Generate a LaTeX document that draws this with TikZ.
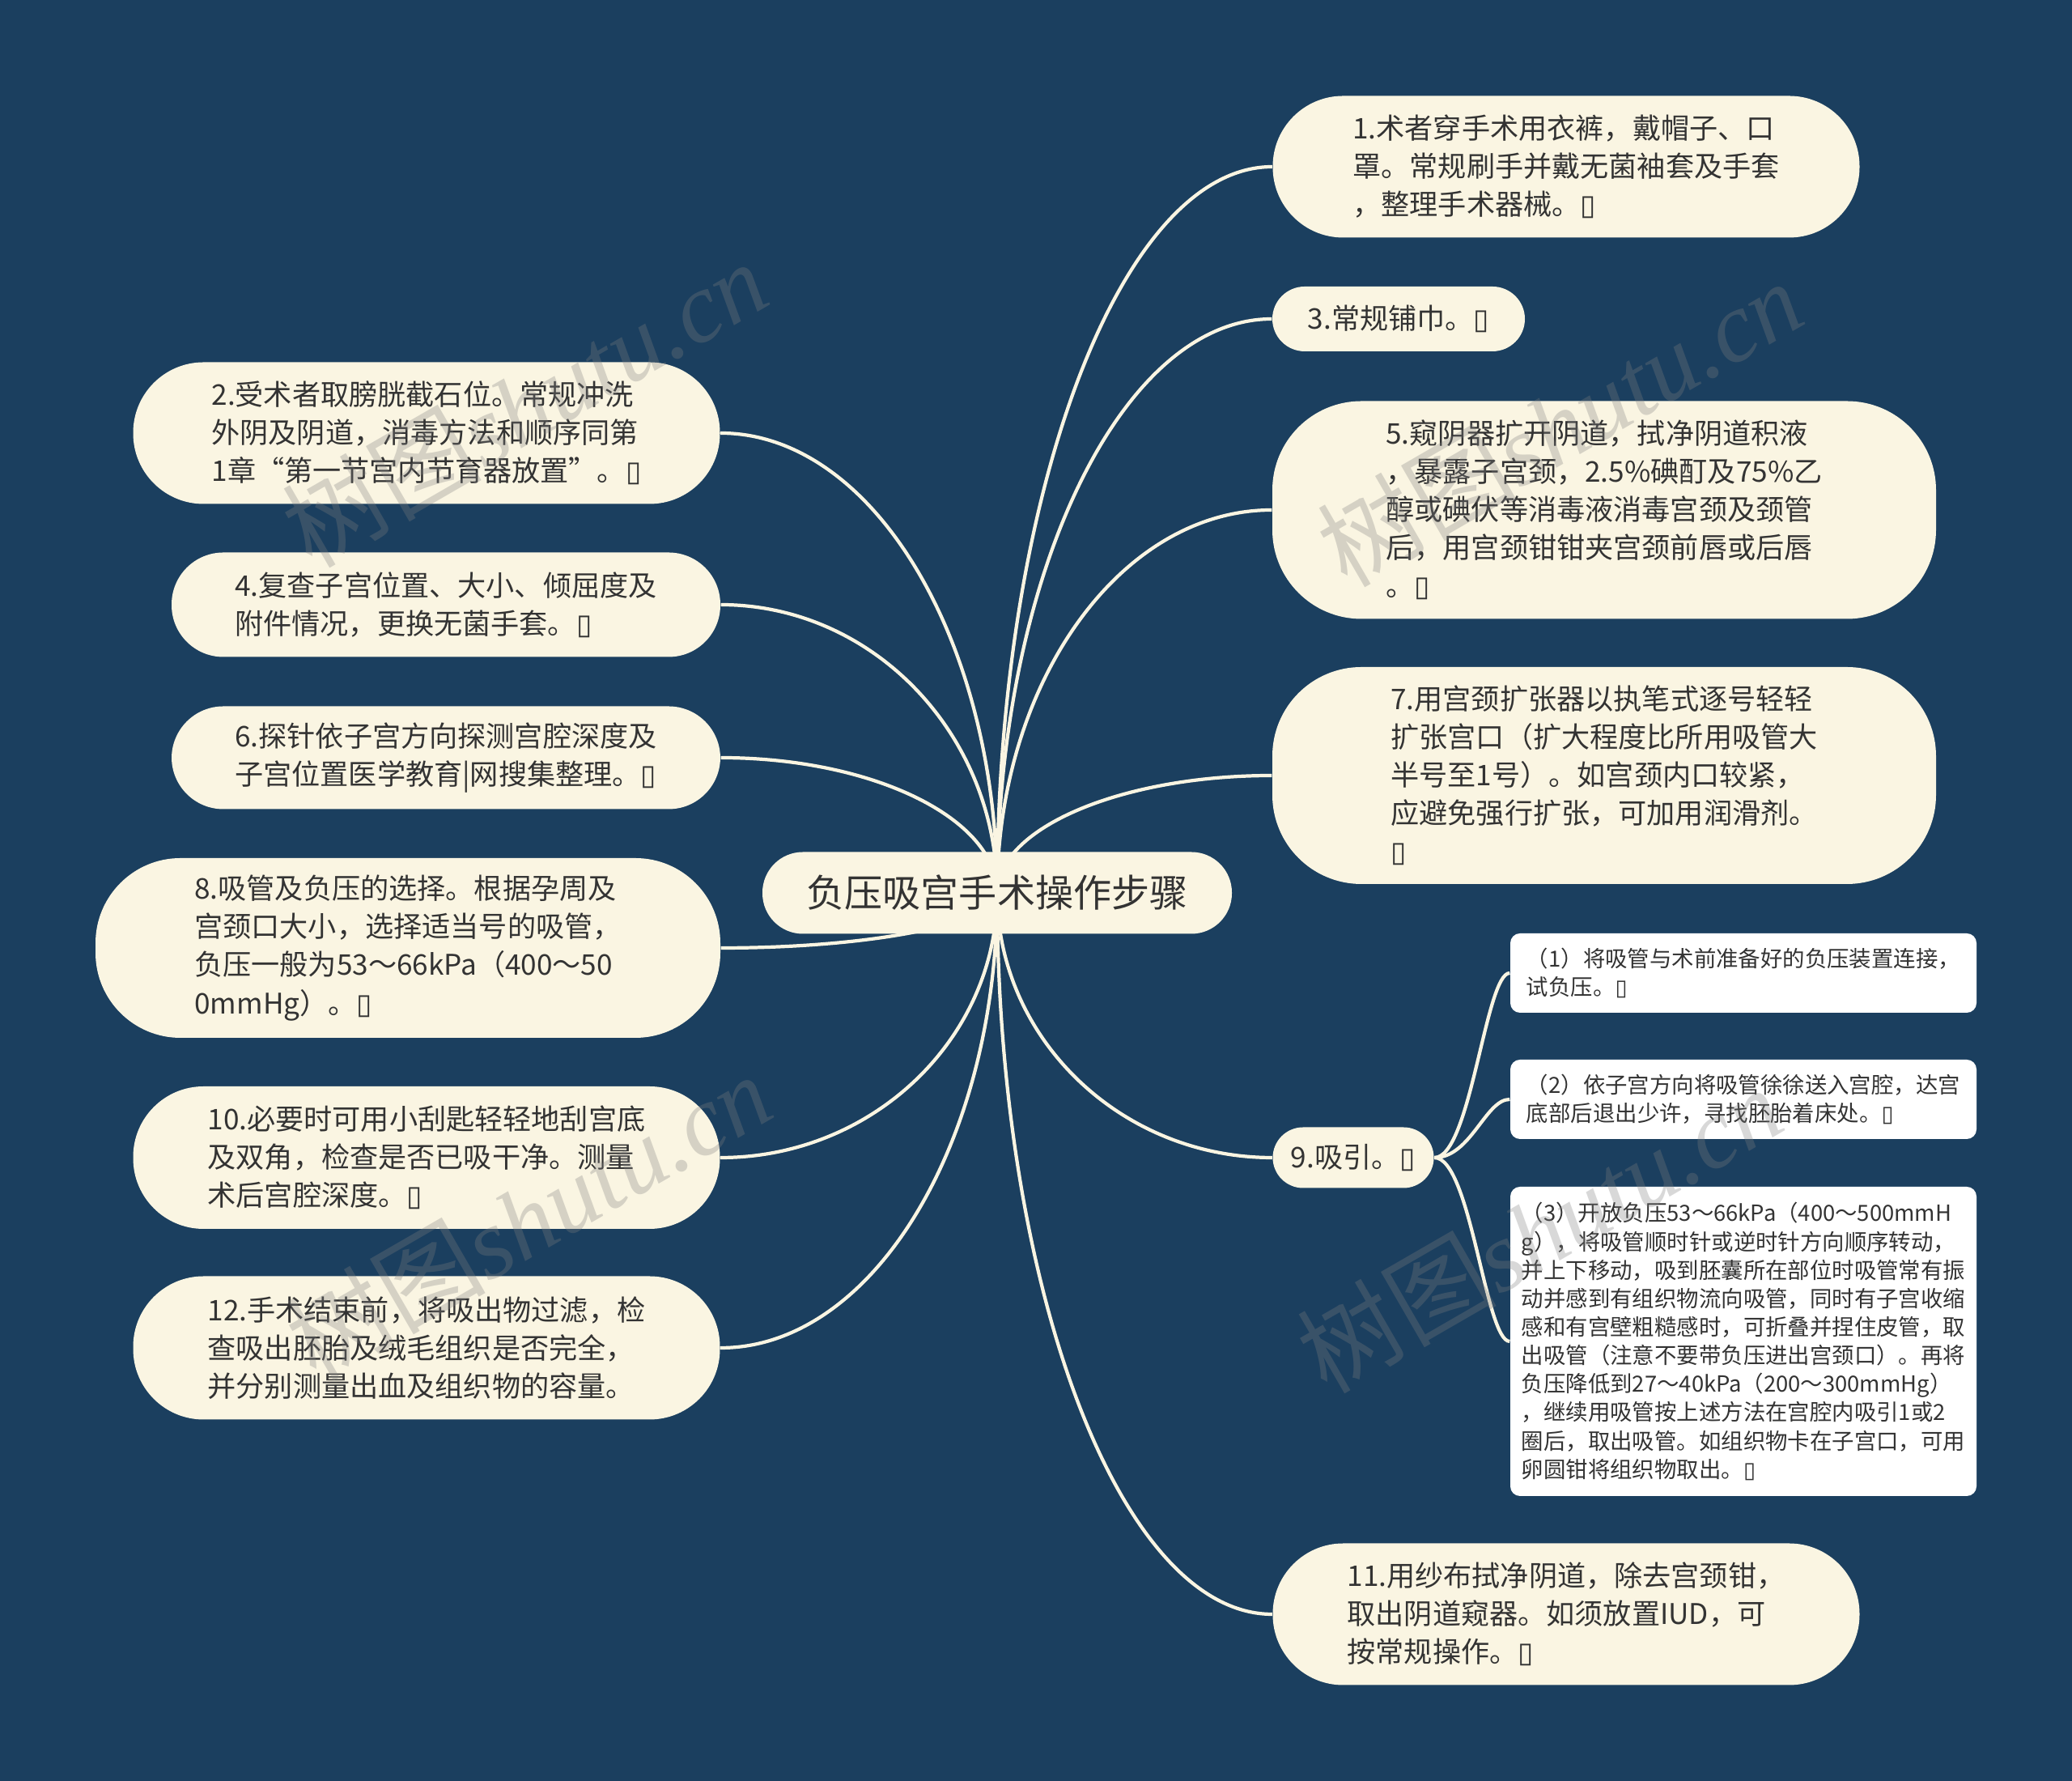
\documentclass[tikz,border=0pt]{standalone}
\usepackage{fontspec}
\setmainfont{Noto Sans CJK SC}
\newfontfamily\boxfont{DejaVu Sans}
\newfontfamily\wmfont{Liberation Serif}
\usetikzlibrary{calc}

\definecolor{pagebg}{HTML}{1B3F5F}
\definecolor{cream}{HTML}{FAF5E2}
\definecolor{ink}{HTML}{333333}
\newcommand{\tofu}{{\boxfont ▯}}

\pgfdeclarelayer{bg}
\pgfdeclarelayer{links}
\pgfsetlayers{bg,links,main}

\begin{document}
\begin{tikzpicture}[
  mainbox/.style={fill=cream, text=ink, rounded corners=0.5cm, inner sep=0pt, font=\fontsize{13.4}{16}\selectfont},
  stepbox/.style={fill=cream, text=ink, rounded corners=#1, inner sep=0pt, align=left, font=\fontsize{10}{13.4}\selectfont},
  stepbox/.default=0.87cm,
  subbox/.style={fill=white, text=ink, rounded corners=0.12cm, inner sep=0pt, align=left, font=\fontsize{7.8}{10}\selectfont},
  link/.style={draw=cream, line width=1.2pt},
  mapcurve/.style={to path={.. controls ($(\tikztostart)!0.55!(\tikztostart |- \tikztotarget)$) and ($(\tikztotarget)!0.55!(\tikztostart |- \tikztotarget)$) .. (\tikztotarget)}},
  wmark/.style={text=gray, text opacity=0.3, rotate=30, font=\fontsize{35}{35}\selectfont}
]
\useasboundingbox (0,0) rectangle (25.6,22);

% Page background
\begin{pgfonlayer}{bg}
\fill[pagebg] (0,0) rectangle (25.6,22);
\end{pgfonlayer}

% Centre topic
\node[mainbox, minimum width=5.80cm, minimum height=1.01cm] (root) at (12.32, 10.97) {负压吸宫手术操作步骤};

% Steps on the right
\node[stepbox, minimum width=7.25cm, minimum height=1.75cm] (n1) at (19.35, 19.94) {1.术者穿手术用衣裤，戴帽子、口\\罩。常规刷手并戴无菌袖套及手套\\，整理手术器械。\tofu};
\node[stepbox=0.40cm, minimum width=3.12cm, minimum height=0.80cm] (n3) at (17.28, 18.06) {3.常规铺巾。\tofu};
\node[stepbox=1.1cm, minimum width=8.20cm, minimum height=2.69cm] (n5) at (19.82, 15.70) {5.窥阴器扩开阴道，拭净阴道积液\\，暴露子宫颈，2.5\%碘酊及75\%乙\\醇或碘伏等消毒液消毒宫颈及颈管\\后，用宫颈钳钳夹宫颈前唇或后唇\\。\tofu};
\node[stepbox=1.1cm, minimum width=8.20cm, minimum height=2.68cm] (n7) at (19.82, 12.42) {7.用宫颈扩张器以执笔式逐号轻轻\\扩张宫口（扩大程度比所用吸管大\\半号至1号）。如宫颈内口较紧，\\应避免强行扩张，可加用润滑剂。\\\tofu};
\node[stepbox=0.375cm, minimum width=1.99cm, minimum height=0.75cm] (n9) at (16.72, 7.70) {9.吸引。\tofu};
\node[stepbox, minimum width=7.25cm, minimum height=1.75cm] (n11) at (19.35, 2.06) {11.用纱布拭净阴道，除去宫颈钳，\\取出阴道窥器。如须放置IUD，可\\按常规操作。\tofu};

% Details of step 9
\node[subbox, minimum width=5.76cm, minimum height=0.98cm] (s1) at (21.54, 9.98) {（1）将吸管与术前准备好的负压装置连接，\\试负压。\tofu};
\node[subbox, minimum width=5.76cm, minimum height=0.98cm] (s2) at (21.54, 8.42) {（2）依子宫方向将吸管徐徐送入宫腔，达宫\\底部后退出少许，寻找胚胎着床处。\tofu};
\node[subbox, minimum width=5.76cm, minimum height=3.82cm] (s3) at (21.54, 5.43) {（3）开放负压53～66kPa（400～500mmH\\g），将吸管顺时针或逆时针方向顺序转动，\\并上下移动，吸到胚囊所在部位时吸管常有振\\动并感到有组织物流向吸管，同时有子宫收缩\\感和有宫壁粗糙感时，可折叠并捏住皮管，取\\出吸管（注意不要带负压进出宫颈口）。再将\\负压降低到27～40kPa（200～300mmHg）\\，继续用吸管按上述方法在宫腔内吸引1或2\\圈后，取出吸管。如组织物卡在子宫口，可用\\卵圆钳将组织物取出。\tofu};

% Steps on the left
\node[stepbox, minimum width=7.25cm, minimum height=1.75cm] (n2) at (5.27, 16.65) {2.受术者取膀胱截石位。常规冲洗\\外阴及阴道，消毒方法和顺序同第\\1章“第一节宫内节育器放置”。\tofu};
\node[stepbox=0.64cm, minimum width=6.78cm, minimum height=1.29cm] (n4) at (5.51, 14.53) {4.复查子宫位置、大小、倾屈度及\\附件情况，更换无菌手套。\tofu};
\node[stepbox=0.64cm, minimum width=6.78cm, minimum height=1.27cm] (n6) at (5.51, 12.64) {6.探针依子宫方向探测宫腔深度及\\子宫位置医学教育|网搜集整理。\tofu};
\node[stepbox=1.05cm, minimum width=7.72cm, minimum height=2.22cm] (n8) at (5.04, 10.29) {8.吸管及负压的选择。根据孕周及\\宫颈口大小，选择适当号的吸管，\\负压一般为53～66kPa（400～50\\0mmHg）。\tofu};
\node[stepbox, minimum width=7.25cm, minimum height=1.76cm] (n10) at (5.27, 7.70) {10.必要时可用小刮匙轻轻地刮宫底\\及双角，检查是否已吸干净。测量\\术后宫腔深度。\tofu};
\node[stepbox, minimum width=7.25cm, minimum height=1.77cm] (n12) at (5.27, 5.35) {12.手术结束前，将吸出物过滤，检\\查吸出胚胎及绒毛组织是否完全，\\并分别测量出血及组织物的容量。};

% Connectors
\begin{pgfonlayer}{links}
\draw[link] (root.center) to[mapcurve] (n1.west);
\draw[link] (root.center) to[mapcurve] (n3.west);
\draw[link] (root.center) to[mapcurve] (n5.west);
\draw[link] (root.center) to[mapcurve] (n7.west);
\draw[link] (root.center) to[mapcurve] (n9.west);
\draw[link] (root.center) to[mapcurve] (n11.west);
\draw[link] (root.center) to[mapcurve] (n2.east);
\draw[link] (root.center) to[mapcurve] (n4.east);
\draw[link] (root.center) to[mapcurve] (n6.east);
\draw[link] (root.center) to[mapcurve] (n8.east);
\draw[link] (root.center) to[mapcurve] (n10.east);
\draw[link] (root.center) to[mapcurve] (n12.east);
\draw[link] (n9.east) .. controls +(0.45,0) and +(-0.3,0) .. (s1.west);
\draw[link] (n9.east) .. controls +(0.45,0) and +(-0.3,0) .. (s2.west);
\draw[link] (n9.east) .. controls +(0.45,0) and +(-0.3,0) .. (s3.west);
\end{pgfonlayer}

% Watermarks
\node[wmark] (wm1) at (6.48, 17.02) {树图{\wmfont\itshape shutu.cn}};
\node[wmark] (wm2) at (19.27, 16.78) {树图{\wmfont\itshape shutu.cn}};
\node[wmark] (wm3) at (6.53, 6.98) {树图{\wmfont\itshape shutu.cn}};
\node[wmark] (wm4) at (19.02, 6.82) {树图{\wmfont\itshape shutu.cn}};
\end{tikzpicture}
\end{document}
